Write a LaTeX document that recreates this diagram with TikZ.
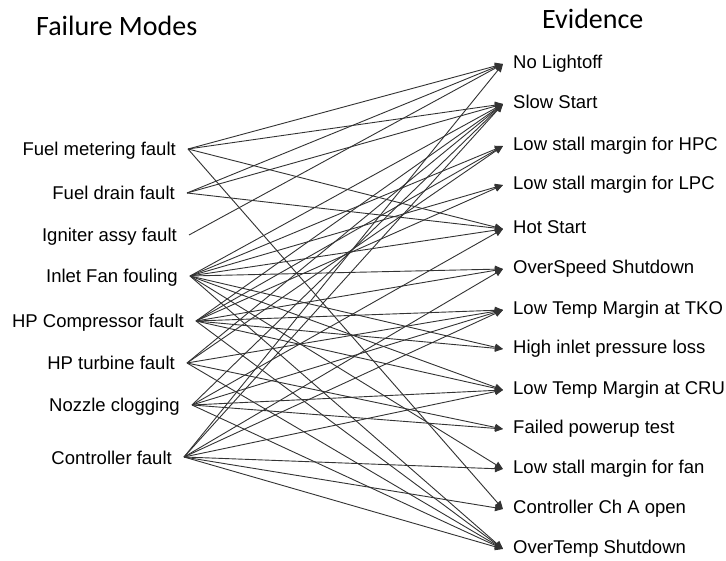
\documentclass[tikz,border=0pt]{standalone}
\usepackage{fontspec}
\setmainfont{Liberation Sans}
\newfontfamily\titlefont{Carlito}
\usetikzlibrary{arrows.meta}
\begin{document}
\begin{tikzpicture}[x=1pt,y=-1pt,
  mode/.style={anchor=east,inner xsep=12pt,inner ysep=0pt,text height=17pt,text depth=3pt,
    font=\fontsize{18.5}{20}\selectfont},
  evid/.style={anchor=west,inner xsep=10pt,inner ysep=0pt,text height=13pt,text depth=4pt,
    font=\fontsize{18.5}{20}\selectfont},
  heading/.style={anchor=base west,inner sep=0pt,font=\titlefont\fontsize{28}{30}\selectfont},
  link/.style={draw=black!80,line width=0.9pt,-{Triangle[length=8pt,width=7pt]}}]
\useasboundingbox[fill=white] (0,0) rectangle (726,561);

% column headings
\node[heading] (hmodes) at (36,36) {Failure Modes};
\node[heading] (hevid) at (542,29) {Evidence};

% failure modes (left column)
\node[mode] (fm) at (188,149) {Fuel metering fault};
\node[mode] (fd) at (187,193) {Fuel drain fault};
\node[mode] (ig) at (189,235) {Igniter assy fault};
\node[mode] (if) at (190,276) {Inlet Fan fouling};
\node[mode] (hc) at (196,321) {HP Compressor fault};
\node[mode] (ht) at (187,363) {HP turbine fault};
\node[mode] (nz) at (192,405) {Nozzle clogging};
\node[mode] (ct) at (184,457) {Controller fault};

% evidence (right column)
\node[evid] (nl)  at (503,64)  {No Lightoff};
\node[evid] (ss)  at (503,104) {Slow Start};
\node[evid] (hpc) at (503,146) {Low stall margin for HPC};
\node[evid] (lpc) at (503,185) {Low stall margin for LPC};
\node[evid] (hs)  at (503,229) {Hot Start};
\node[evid] (os)  at (503,269) {OverSpeed Shutdown};
\node[evid] (tko) at (503,310) {Low Temp Margin at TKO};
\node[evid] (hip) at (503,349) {High inlet pressure loss};
\node[evid] (cru) at (503,390) {Low Temp Margin at CRU};
\node[evid] (fpt) at (503,429) {Failed powerup test};
\node[evid] (fan) at (503,469) {Low stall margin for fan};
\node[evid] (cha) at (503,509) {Controller Ch A open};
\node[evid] (ot)  at (503,549) {OverTemp Shutdown};

% causal links
\foreach \s/\t in {fm/nl,fm/ss,fm/hs,fm/cha,
                   fd/nl,fd/ss,fd/hs,
                   ig/nl,
                   if/ss,if/hpc,if/lpc,if/hs,if/os,if/hip,if/cru,if/fan,if/ot,
                   hc/ss,hc/hpc,hc/lpc,hc/os,hc/tko,hc/hip,hc/cru,hc/ot,
                   ht/ss,ht/hpc,ht/tko,ht/fpt,ht/ot,
                   nz/ss,nz/hs,nz/tko,nz/cru,nz/fpt,nz/ot,
                   ct/nl,ct/ss,ct/os,ct/tko,ct/cru,ct/fan,ct/cha,ct/ot}
  \draw[link] (\s.east) -- (\t.west);
\end{tikzpicture}
\end{document}
